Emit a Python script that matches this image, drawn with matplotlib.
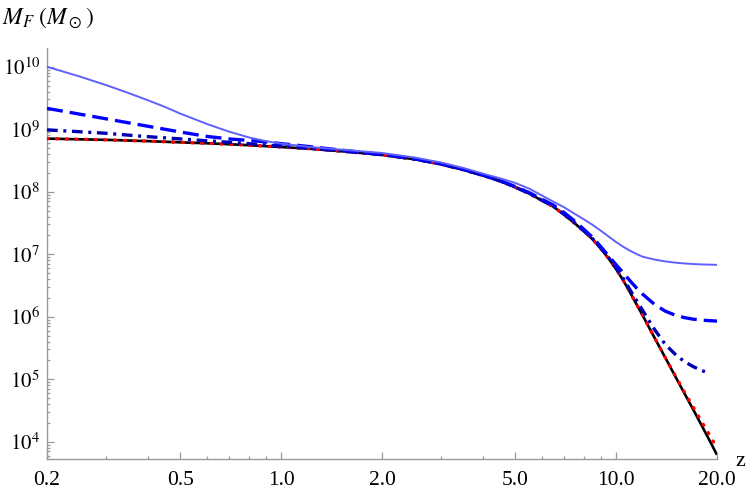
import numpy as np
import matplotlib
matplotlib.use("Agg")
import matplotlib.pyplot as plt
from matplotlib.ticker import FixedLocator, NullFormatter

plt.rcParams['font.family'] = ['Liberation Serif', 'DejaVu Serif']
plt.rcParams['mathtext.fontset'] = 'stix'

# ---- data (log10 of M_F in solar masses) ----
z_black = [0.2, 0.3, 0.4, 0.5, 0.6, 0.7, 0.8, 1.0, 1.2, 1.5, 2.0, 2.5, 3.0, 3.5, 4.0, 4.5,
           5.0, 5.5, 6.0, 6.5, 7.0, 7.5, 8.0, 8.5, 9.0, 9.5, 10, 10.5, 11, 11.5, 12, 13, 14,
           15, 16, 17, 18, 19, 20]
log_black = [8.85, 8.83, 8.81, 8.79, 8.775, 8.76, 8.745, 8.715, 8.69, 8.65, 8.59, 8.52, 8.44,
             8.35, 8.26, 8.17, 8.07, 7.97, 7.86, 7.76, 7.63, 7.50, 7.37, 7.24, 7.09, 6.93,
             6.76, 6.58, 6.39, 6.20, 6.02, 5.67, 5.35, 5.05, 4.77, 4.51, 4.26, 4.02, 3.79]

z_red = [0.2, 0.3, 0.4, 0.5, 0.6, 0.7, 0.8, 1.0, 1.2, 1.5, 2.0, 2.5, 3.0, 3.5, 4.0, 4.5,
         5.0, 5.5, 6.0, 6.5, 7.0, 7.5, 8.0, 8.5, 9.0, 9.5, 10, 10.5, 11, 11.5, 12, 13, 14,
         15, 16, 17, 18, 19, 19.6]
log_red = [8.85, 8.83, 8.81, 8.79, 8.775, 8.76, 8.745, 8.715, 8.69, 8.65, 8.59, 8.52, 8.44,
           8.35, 8.26, 8.17, 8.07, 7.97, 7.86, 7.76, 7.63, 7.50, 7.37, 7.24, 7.09, 6.93,
           6.76, 6.58, 6.39, 6.20, 6.02, 5.67, 5.35, 5.06, 4.79, 4.55, 4.32, 4.11, 3.98]

z_dashdot = [0.2, 0.27, 0.3, 0.38, 0.5, 0.6, 0.8, 1.0, 1.2, 1.5, 2.0, 2.5, 3.0, 3.5, 4.0, 4.5,
             5.0, 5.5, 6.0, 6.5, 7.0, 7.5, 8.0, 8.5, 9.0, 9.5, 10, 10.5, 11, 11.5, 12, 13, 14,
             15, 16, 17, 18, 18.8]
log_dashdot = [8.99, 8.95, 8.935, 8.89, 8.845, 8.815, 8.77, 8.728, 8.697, 8.654, 8.592, 8.523,
               8.443, 8.353, 8.263, 8.173, 8.073, 7.973, 7.865, 7.765, 7.637, 7.507, 7.378,
               7.25, 7.10, 6.945, 6.78, 6.61, 6.43, 6.26, 6.10, 5.80, 5.56, 5.40, 5.28, 5.20,
               5.14, 5.10]

z_dashed = [0.2, 0.25, 0.3, 0.35, 0.4, 0.5, 0.6, 0.7, 0.85, 1.0, 1.2, 1.5, 2.0, 2.5, 3.0, 3.5,
            4.0, 4.5, 5.0, 5.5, 6.0, 6.5, 7.0, 7.5, 8.0, 8.5, 9.0, 9.5, 10, 10.5, 11, 11.5,
            12, 13, 14, 15, 16, 17, 18, 19, 20]
log_dashed = [9.334, 9.242, 9.167, 9.103, 9.048, 8.956, 8.885, 8.845, 8.81, 8.77, 8.725,
              8.668, 8.597, 8.527, 8.447, 8.358, 8.268, 8.18, 8.082, 7.985, 7.88, 7.785,
              7.665, 7.535, 7.40, 7.27, 7.12, 6.97, 6.83, 6.70, 6.575, 6.46, 6.36, 6.20,
              6.09, 6.025, 5.985, 5.96, 5.945, 5.937, 5.93]

z_light = [0.2, 0.25, 0.3, 0.35, 0.4, 0.45, 0.5, 0.6, 0.7, 0.8, 0.9, 1.0, 1.2, 1.5, 2.0, 2.5,
           3.0, 3.5, 4.0, 4.5, 5.0, 5.5, 6.0, 6.5, 7.0, 7.5, 8.0, 8.5, 9.0, 9.5, 10, 10.5,
           11, 11.5, 12, 13, 14, 15, 16, 17, 18, 19, 20]
log_light = [10.0, 9.845, 9.707, 9.58, 9.464, 9.357, 9.25, 9.085, 8.96, 8.87, 8.81, 8.77,
             8.72, 8.675, 8.62, 8.548, 8.468, 8.38, 8.29, 8.215, 8.14, 8.05, 7.94, 7.84,
             7.75, 7.65, 7.56, 7.47, 7.376, 7.282, 7.195, 7.119, 7.056, 7.004, 6.96, 6.915,
             6.885, 6.865, 6.852, 6.843, 6.837, 6.833, 6.83]

xtick_values = [0.2, 0.5, 1.0, 2.0, 5.0, 10.0, 20.0]
xtick_labels = ["0.2", "0.5", "1.0", "2.0", "5.0", "10.0", "20.0"]
ytick_values = [1e4, 1e5, 1e6, 1e7, 1e8, 1e9, 1e10]
ytick_labels = [r"$10^{4}$", r"$10^{5}$", r"$10^{6}$", r"$10^{7}$", r"$10^{8}$",
                r"$10^{9}$", r"$10^{10}$"]

# ---- figure ----
W, H = 747, 492
fig = plt.figure(figsize=(W / 100, H / 100), dpi=100)
ax = fig.add_axes([47 / W, 1 - 459 / H, (717 - 47) / W, (459 - 48) / H])

to_val = lambda a: 10 ** np.asarray(a)

ax.plot(z_black, to_val(log_black), color='black', lw=1.9, solid_capstyle='butt', zorder=2)
ax.plot(z_red, to_val(log_red), color='#ff0000', lw=2.4, dashes=(0.3, 2.6),
        dash_capstyle='round', zorder=3)
ax.plot(z_dashdot, to_val(log_dashdot), color='#0000b4', lw=2.4,
        dashes=(3.2, 1.7, 0.9, 1.7), zorder=4)
ax.plot(z_dashed, to_val(log_dashed), color='#0000ff', lw=2.4, dashes=(4.8, 2.1), zorder=5)
ax.plot(z_light, to_val(log_light), color='#6060ff', lw=1.4, zorder=6)

ax.set_xscale('log')
ax.set_yscale('log')
ax.set_xlim(0.2, 20.0)
ax.set_ylim(10 ** 3.723, 10 ** 10.30)

for s in ['top', 'right']:
    ax.spines[s].set_visible(False)
for s in ['left', 'bottom']:
    ax.spines[s].set_color('#9a9a9a')
    ax.spines[s].set_linewidth(1.0)

ax.xaxis.set_major_locator(FixedLocator(xtick_values))
ax.set_xticklabels(xtick_labels)
xminor = [v * d for d in [0.1, 1.0, 10.0] for v in [3, 4, 6, 7, 8, 9] if 0.2 < v * d < 20]
ax.xaxis.set_minor_locator(FixedLocator(xminor))
ax.xaxis.set_minor_formatter(NullFormatter())

ax.yaxis.set_major_locator(FixedLocator(ytick_values))
ax.set_yticklabels(ytick_labels)
yminor = [m * 10.0 ** e for e in range(3, 11) for m in range(2, 10)]
ax.yaxis.set_minor_locator(FixedLocator(yminor))
ax.yaxis.set_minor_formatter(NullFormatter())

ax.tick_params(which='both', direction='in', color='#9a9a9a', width=0.9, labelcolor='black')
ax.tick_params(which='major', length=5)
ax.tick_params(which='minor', length=2.2)
ax.tick_params(axis='x', which='major', pad=8.5, labelsize=15.5)
ax.tick_params(axis='y', which='major', pad=5, labelsize=15)

fig.text(2 / W, 1 - 24 / H, r"$M_F\ (M_\odot)$", fontsize=17, va='baseline', ha='left')
fig.text(735 / W, 1 - 461 / H, "z", fontsize=16, va='center', ha='left')

fig.savefig("out.png", dpi=100)
